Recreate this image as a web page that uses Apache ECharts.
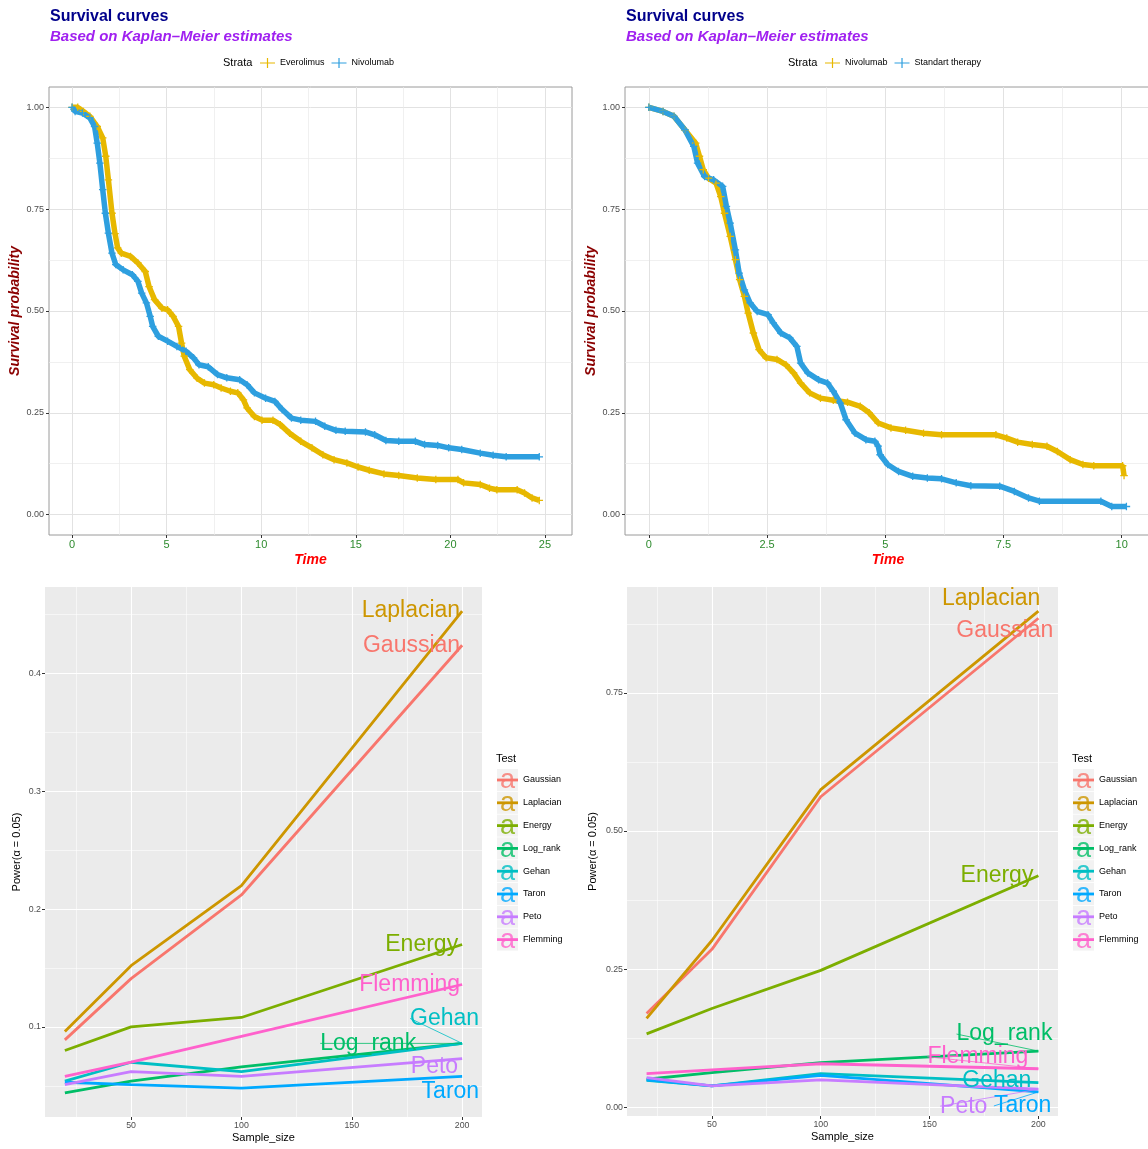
<!DOCTYPE html>
<html>
<head>
<meta charset="utf-8">
<script src="https://cdn.jsdelivr.net/npm/echarts@6/dist/echarts.min.js"></script>
<style>
html,body{margin:0;padding:0;background:#ffffff;}
#chart{width:1148px;height:1149px;}
</style>
</head>
<body>
<div id="chart"></div>
<script>
const FONT = '"Liberation Sans", Arial, Helvetica, sans-serif';

// ---------- Top-left survival panel: Everolimus vs Nivolumab ----------
const tlEverolimusTime = [0,0.3,0.6,0.94,1.33,1.62,1.78,1.92,2.11,2.27,2.41,2.6,3.09,3.48,3.87,4.07,4.36,4.75,5.05,5.34,5.63,5.79,5.93,6.22,6.61,7.0,7.49,7.88,8.37,8.76,9.06,9.25,9.64,10.04,10.62,11.01,11.5,12.09,12.68,13.26,13.85,14.53,15.12,15.71,16.49,17.27,18.25,19.23,20.4,20.7,21.58,22.07,22.46,23.53,23.92,24.32,24.7];
const tlEverolimusSurv = [1.0,1.0,0.99,0.978,0.953,0.925,0.88,0.822,0.74,0.69,0.655,0.642,0.634,0.618,0.597,0.56,0.528,0.507,0.503,0.487,0.462,0.421,0.389,0.356,0.335,0.323,0.319,0.311,0.303,0.299,0.282,0.262,0.241,0.232,0.232,0.221,0.2,0.18,0.164,0.147,0.135,0.127,0.117,0.109,0.1,0.096,0.09,0.086,0.086,0.078,0.074,0.065,0.061,0.061,0.053,0.041,0.035];
const tlNivolumabTime = [0,0.16,0.55,0.94,1.19,1.33,1.47,1.62,1.76,1.92,2.11,2.31,2.7,3.19,3.48,3.68,3.93,4.13,4.26,4.56,5.05,5.54,6.03,6.42,6.71,7.2,7.69,8.18,8.86,9.25,9.64,10.23,10.72,11.11,11.6,12.09,12.87,13.36,13.95,14.44,15.51,16.0,16.59,17.27,18.15,18.64,19.33,19.91,20.6,21.58,22.26,22.95,24.7];
const tlNivolumabSurv = [1.0,0.99,0.986,0.974,0.953,0.912,0.863,0.798,0.74,0.691,0.642,0.614,0.601,0.589,0.573,0.544,0.52,0.487,0.462,0.438,0.426,0.413,0.401,0.385,0.368,0.363,0.344,0.336,0.331,0.319,0.299,0.286,0.278,0.258,0.237,0.232,0.229,0.217,0.207,0.205,0.203,0.196,0.182,0.18,0.18,0.172,0.17,0.164,0.16,0.151,0.146,0.142,0.142];

// ---------- Top-right survival panel: Nivolumab vs Standart therapy ----------
const trNivolumabTime = [0,0.3,0.53,0.76,0.99,1.07,1.15,1.26,1.42,1.52,1.6,1.72,1.83,1.92,2.02,2.1,2.21,2.33,2.48,2.71,2.9,3.06,3.21,3.4,3.63,3.9,4.2,4.47,4.66,4.85,5.12,5.43,5.81,6.19,7.34,7.57,7.8,8.11,8.42,8.64,8.91,9.18,9.41,10.02,10.05];
const trNivolumabSurv = [1.0,0.99,0.978,0.945,0.912,0.88,0.847,0.826,0.814,0.781,0.74,0.683,0.626,0.577,0.536,0.495,0.446,0.405,0.385,0.381,0.368,0.348,0.323,0.299,0.286,0.281,0.276,0.266,0.25,0.225,0.213,0.207,0.2,0.196,0.196,0.188,0.178,0.172,0.168,0.155,0.135,0.123,0.12,0.12,0.096];
const trStandartTime = [0,0.3,0.53,0.76,0.95,1.03,1.18,1.37,1.56,1.64,1.72,1.83,1.91,2.02,2.14,2.29,2.52,2.63,2.79,2.98,3.13,3.21,3.36,3.59,3.78,3.9,4.05,4.17,4.36,4.59,4.78,4.85,4.89,5.05,5.28,5.58,5.89,6.19,6.5,6.81,7.42,7.73,8.03,8.26,9.56,9.79,10.1];
const trStandartSurv = [1.0,0.99,0.978,0.945,0.904,0.863,0.83,0.822,0.806,0.757,0.716,0.65,0.593,0.552,0.52,0.499,0.491,0.471,0.446,0.434,0.413,0.372,0.348,0.331,0.323,0.303,0.274,0.233,0.2,0.184,0.18,0.168,0.147,0.123,0.106,0.094,0.09,0.088,0.078,0.071,0.07,0.057,0.041,0.033,0.033,0.02,0.02];

// ---------- Survival axis ticks ----------
const survTicks = [0, 0.25, 0.5, 0.75, 1];
const survMinorTicks = [0.125, 0.375, 0.625, 0.875];
const tlTimeTicks = [0, 5, 10, 15, 20, 25];
const tlTimeMinorTicks = [2.5, 7.5, 12.5, 17.5, 22.5];
const trTimeTicks = [0, 2.5, 5, 7.5, 10];
const trTimeMinorTicks = [1.25, 3.75, 6.25, 8.75];

// ---------- Power panels ----------
const sampleSizes = [20, 50, 100, 200];
const testNames = ['Gaussian','Laplacian','Energy','Log_rank','Gehan','Taron','Peto','Flemming'];
const testColors = ['#F8766D','#CD9600','#7CAE00','#00BE67','#00BFC4','#00A9FF','#C77CFF','#FF61CC'];

const blGaussian  = [0.089, 0.141, 0.212, 0.424];
const blLaplacian = [0.096, 0.152, 0.220, 0.453];
const blEnergy    = [0.080, 0.100, 0.108, 0.170];
const blLogRank   = [0.044, 0.054, 0.066, 0.086];
const blGehan     = [0.054, 0.070, 0.062, 0.086];
const blTaron     = [0.053, 0.051, 0.048, 0.058];
const blPeto      = [0.051, 0.062, 0.058, 0.073];
const blFlemming  = [0.058, 0.070, 0.092, 0.136];

const brGaussian  = [0.170, 0.286, 0.562, 0.885];
const brLaplacian = [0.161, 0.302, 0.575, 0.898];
const brEnergy    = [0.133, 0.179, 0.248, 0.419];
const brLogRank   = [0.051, 0.063, 0.081, 0.102];
const brGehan     = [0.049, 0.039, 0.061, 0.045];
const brTaron     = [0.050, 0.039, 0.058, 0.028];
const brPeto      = [0.054, 0.039, 0.050, 0.033];
const brFlemming  = [0.061, 0.068, 0.079, 0.070];

const sampleTicks = [50, 100, 150, 200];
const sampleMinorTicks = [25, 75, 125, 175];
const blPowerTicks = [0.1, 0.2, 0.3, 0.4];
const blPowerMinorTicks = [0.05, 0.15, 0.25, 0.35, 0.45];
const brPowerTicks = [0, 0.25, 0.5, 0.75];
const brPowerMinorTicks = [0.125, 0.375, 0.625, 0.875];

// ---------- layout / styling (not data) ----------
const blSeriesValues = [blGaussian, blLaplacian, blEnergy, blLogRank, blGehan, blTaron, blPeto, blFlemming];
const brSeriesValues = [brGaussian, brLaplacian, brEnergy, brLogRank, brGehan, brTaron, brPeto, brFlemming];
const blLabelShift = [[2,0],[2,0],[0,0],[-42,0],[21,-25],[21,15],[0,8],[2,0]];
const brLabelShift = [[19,12],[6,-12],[-1,0],[18,-17],[-3,-2],[17,14],[-47,17],[-6,-12]];
const blGuide = [false,false,false,true,true,false,false,false];
const brGuide = [false,false,false,true,false,true,true,true];

const YELLOW = '#E7B800', BLUE = '#2E9FDF';
const PLUS = 'path://M0,2.9H7V4.1H0Z M2.9,0H4.1V7H2.9Z';
const KEY_PLUS = 'path://M0,4.4H15V5.6H0Z M6.9,0H8.1V10H6.9Z';
const KEY_BAR = 'path://M0,0M21,22M0,9.6H21V12.4H0Z';
const KEY_W = 21, KEY_H = 22, KEY_GAP = 0.8;

const grids = [
  {left:49, top:87, width:523, height:448, show:true, backgroundColor:'#ffffff', borderColor:'#9a9a9a', borderWidth:1},
  {left:625, top:87, width:526, height:448, show:true, backgroundColor:'#ffffff', borderColor:'#9a9a9a', borderWidth:1},
  {left:45, top:587, width:437, height:530, show:true, backgroundColor:'#EBEBEB', borderWidth:0},
  {left:627, top:587, width:431, height:529, show:true, backgroundColor:'#EBEBEB', borderWidth:0}
].map(g => Object.assign(g, {containLabel:false, outerBoundsMode:'none'}));

function axisPair(gridIndex, min, max, ticks, minorTicks, st) {
  const major = {
    type:'value', gridIndex, min, max,
    axisLine:{show:false, onZero:false},
    axisTick:{show:true, length:3, lineStyle:{color:'#333333', width:1}, customValues:ticks},
    axisLabel:{show:true, customValues:ticks, margin:st.margin, color:st.labelColor, fontSize:st.labelSize, fontFamily:FONT, formatter:st.fmt},
    splitLine:{show:true, lineStyle:{color:st.majorColor, width:st.majorWidth}},
    name:st.name, nameLocation:'middle', nameGap:st.nameGap,
    nameTextStyle:Object.assign({fontFamily:FONT}, st.nameStyle)
  };
  const minor = {
    type:'value', gridIndex, min, max,
    axisLine:{show:false, onZero:false},
    axisTick:{show:false, customValues:minorTicks},
    axisLabel:{show:false},
    splitLine:{show:true, lineStyle:{color:st.minorColor, width:st.minorWidth}}
  };
  return [major, minor];
}

const topGridStyle = {majorColor:'#E2E2E2', majorWidth:1, minorColor:'#EAEAEA', minorWidth:0.7};
const botGridStyle = {majorColor:'#FFFFFF', majorWidth:1.1, minorColor:'#FFFFFF', minorWidth:0.55};

const timeX = Object.assign({}, topGridStyle, {margin:4, labelColor:'#2E8B2E', labelSize:11, name:'Time', nameGap:18,
  nameStyle:{color:'#FF0000', fontSize:14, fontWeight:'bold', fontStyle:'italic'}});
const survY = Object.assign({}, topGridStyle, {margin:5, labelColor:'#4D4D4D', labelSize:9, fmt:v => v.toFixed(2),
  name:'Survival probability', nameGap:25, nameStyle:{color:'#8B0000', fontSize:14, fontWeight:'bold', fontStyle:'italic'}});
const sampleX = Object.assign({}, botGridStyle, {margin:4, labelColor:'#4D4D4D', labelSize:8.8, name:'Sample_size', nameGap:15,
  nameStyle:{color:'#000000', fontSize:11}});
const blPowerY = Object.assign({}, botGridStyle, {margin:4, labelColor:'#4D4D4D', labelSize:8.8,
  name:'Power(\u03b1 = 0.05)', nameGap:23, nameStyle:{color:'#000000', fontSize:11}});
const brPowerY = Object.assign({}, blPowerY, {fmt:v => v.toFixed(2), nameGap:29});

const xAxes = [].concat(
  axisPair(0, -1.22, 26.43, tlTimeTicks, tlTimeMinorTicks, timeX),
  axisPair(1, -0.505, 10.62, trTimeTicks, trTimeMinorTicks, timeX),
  axisPair(2, 11, 209, sampleTicks, sampleMinorTicks, sampleX),
  axisPair(3, 11, 209, sampleTicks, sampleMinorTicks, sampleX)
);
const yAxes = [].concat(
  axisPair(0, -0.05, 1.05, survTicks, survMinorTicks, survY),
  axisPair(1, -0.05, 1.05, survTicks, survMinorTicks, survY),
  axisPair(2, 0.0235, 0.4735, blPowerTicks, blPowerMinorTicks, blPowerY),
  axisPair(3, -0.0155, 0.9415, brPowerTicks, brPowerMinorTicks, brPowerY)
);

function kmSeries(name, times, surv, color, axisIdx) {
  return {
    type:'line', name, xAxisIndex:axisIdx, yAxisIndex:axisIdx,
    data:times.map((t,i) => [t, surv[i]]),
    showSymbol:true, symbol:PLUS, symbolSize:7.5,
    lineStyle:{width:5.5, color}, itemStyle:{color},
    silent:true, animation:false
  };
}

const series = [
  kmSeries('Everolimus', tlEverolimusTime, tlEverolimusSurv, YELLOW, 0),
  kmSeries('Nivolumab', tlNivolumabTime, tlNivolumabSurv, BLUE, 0),
  kmSeries('Nivolumab', trNivolumabTime, trNivolumabSurv, YELLOW, 2),
  kmSeries('Standart therapy', trStandartTime, trStandartSurv, BLUE, 2)
];

function powerSeries(values, axisIdx) {
  return testNames.map((name, i) => ({
    type:'line', name, xAxisIndex:axisIdx, yAxisIndex:axisIdx,
    data:sampleSizes.map((s,j) => [s, values[i][j]]),
    showSymbol:false, lineStyle:{width:2.8, color:testColors[i]}, itemStyle:{color:testColors[i]},
    silent:true, animation:false
  }));
}
function labelSeries(values, axisIdx, shifts, guides) {
  const last = sampleSizes.length - 1;
  return {
    type:'scatter', name:'labels' + axisIdx, xAxisIndex:axisIdx, yAxisIndex:axisIdx,
    symbolSize:0, silent:true, animation:false, z:5,
    itemStyle:{opacity:1},
    data:testNames.map((name, i) => ({
      name, value:[sampleSizes[last], values[i][last]],
      itemStyle:{color:testColors[i], opacity:1},
      label:{color:testColors[i], opacity:1},
      labelLine:{show:guides[i], lineStyle:{color:testColors[i], width:0.8, opacity:1}}
    })),
    label:{show:true, position:'left', distance:4, formatter:'{b}', fontSize:23, fontFamily:FONT, opacity:1},
    labelLine:{show:false},
    labelLayout:p => ({dx:shifts[p.dataIndex][0], dy:shifts[p.dataIndex][1]})
  };
}
series.push(...powerSeries(blSeriesValues, 4));
series.push(...powerSeries(brSeriesValues, 6));
series.push(labelSeries(blSeriesValues, 4, blLabelShift, blGuide));
series.push(labelSeries(brSeriesValues, 6, brLabelShift, brGuide));

function ttl(text, left, top, style) {
  return {text, left, top, padding:0, textStyle:Object.assign({fontFamily:FONT}, style)};
}
const titles = [
  ttl('Survival curves', 50, 9, {fontSize:16, fontWeight:'bold', color:'#00008B'}),
  ttl('Based on Kaplan\u2013Meier estimates', 50, 29, {fontSize:15, fontWeight:'bold', fontStyle:'italic', color:'#A020F0'}),
  ttl('Survival curves', 626, 9, {fontSize:16, fontWeight:'bold', color:'#00008B'}),
  ttl('Based on Kaplan\u2013Meier estimates', 626, 29, {fontSize:15, fontWeight:'bold', fontStyle:'italic', color:'#A020F0'}),
  ttl('Strata', 223, 57, {fontSize:11, fontWeight:'normal', color:'#000000'}),
  ttl('Strata', 788, 57, {fontSize:11, fontWeight:'normal', color:'#000000'}),
  ttl('Test', 496, 753, {fontSize:11, fontWeight:'normal', color:'#000000'}),
  ttl('Test', 1072, 753, {fontSize:11, fontWeight:'normal', color:'#000000'})
];

function strataLegend(left, items) {
  return {
    orient:'horizontal', left, top:58, padding:0, itemGap:7, itemWidth:15, itemHeight:10,
    icon:KEY_PLUS, textStyle:{fontSize:9, color:'#000000', fontFamily:FONT},
    data:items.map(([name,color]) => ({name, itemStyle:{color}}))
  };
}
function testLegend(left, top) {
  return {
    orient:'vertical', left, top, padding:0, itemGap:KEY_GAP, itemWidth:KEY_W, itemHeight:KEY_H,
    icon:KEY_BAR, textStyle:{fontSize:9, color:'#000000', fontFamily:FONT},
    data:testNames.map((name,i) => ({name, itemStyle:{color:testColors[i]}}))
  };
}
const legendPos = [[497, 769], [1073, 769]];
const legends = [
  strataLegend(260, [['Everolimus', YELLOW], ['Nivolumab', BLUE]]),
  strataLegend(825, [['Nivolumab', YELLOW], ['Standart therapy', BLUE]]),
  testLegend(legendPos[0][0], legendPos[0][1]),
  testLegend(legendPos[1][0], legendPos[1][1])
];

const keyGraphics = [];
legendPos.forEach(([lx, ly]) => {
  testNames.forEach((n, i) => {
    const y = ly + i * (KEY_H + KEY_GAP);
    keyGraphics.push({type:'rect', silent:true, z:0, shape:{x:lx, y:y, width:KEY_W, height:KEY_H}, style:{fill:'#F2F2F2'}});
    keyGraphics.push({type:'text', silent:true, z:10, x:lx + KEY_W/2, y:y + KEY_H/2 + 1,
      style:{text:'a', fill:testColors[i], opacity:0.8, fontSize:27, fontFamily:FONT, align:'center', verticalAlign:'middle', textAlign:'center', textVerticalAlign:'middle'}});
  });
});

const chart = echarts.init(document.getElementById('chart'), null, {renderer:'canvas'});
chart.setOption({
  animation:false,
  backgroundColor:'#ffffff',
  title:titles,
  legend:legends,
  grid:grids,
  xAxis:xAxes,
  yAxis:yAxes,
  series,
  graphic:{elements:keyGraphics}
});
</script>
</body>
</html>
